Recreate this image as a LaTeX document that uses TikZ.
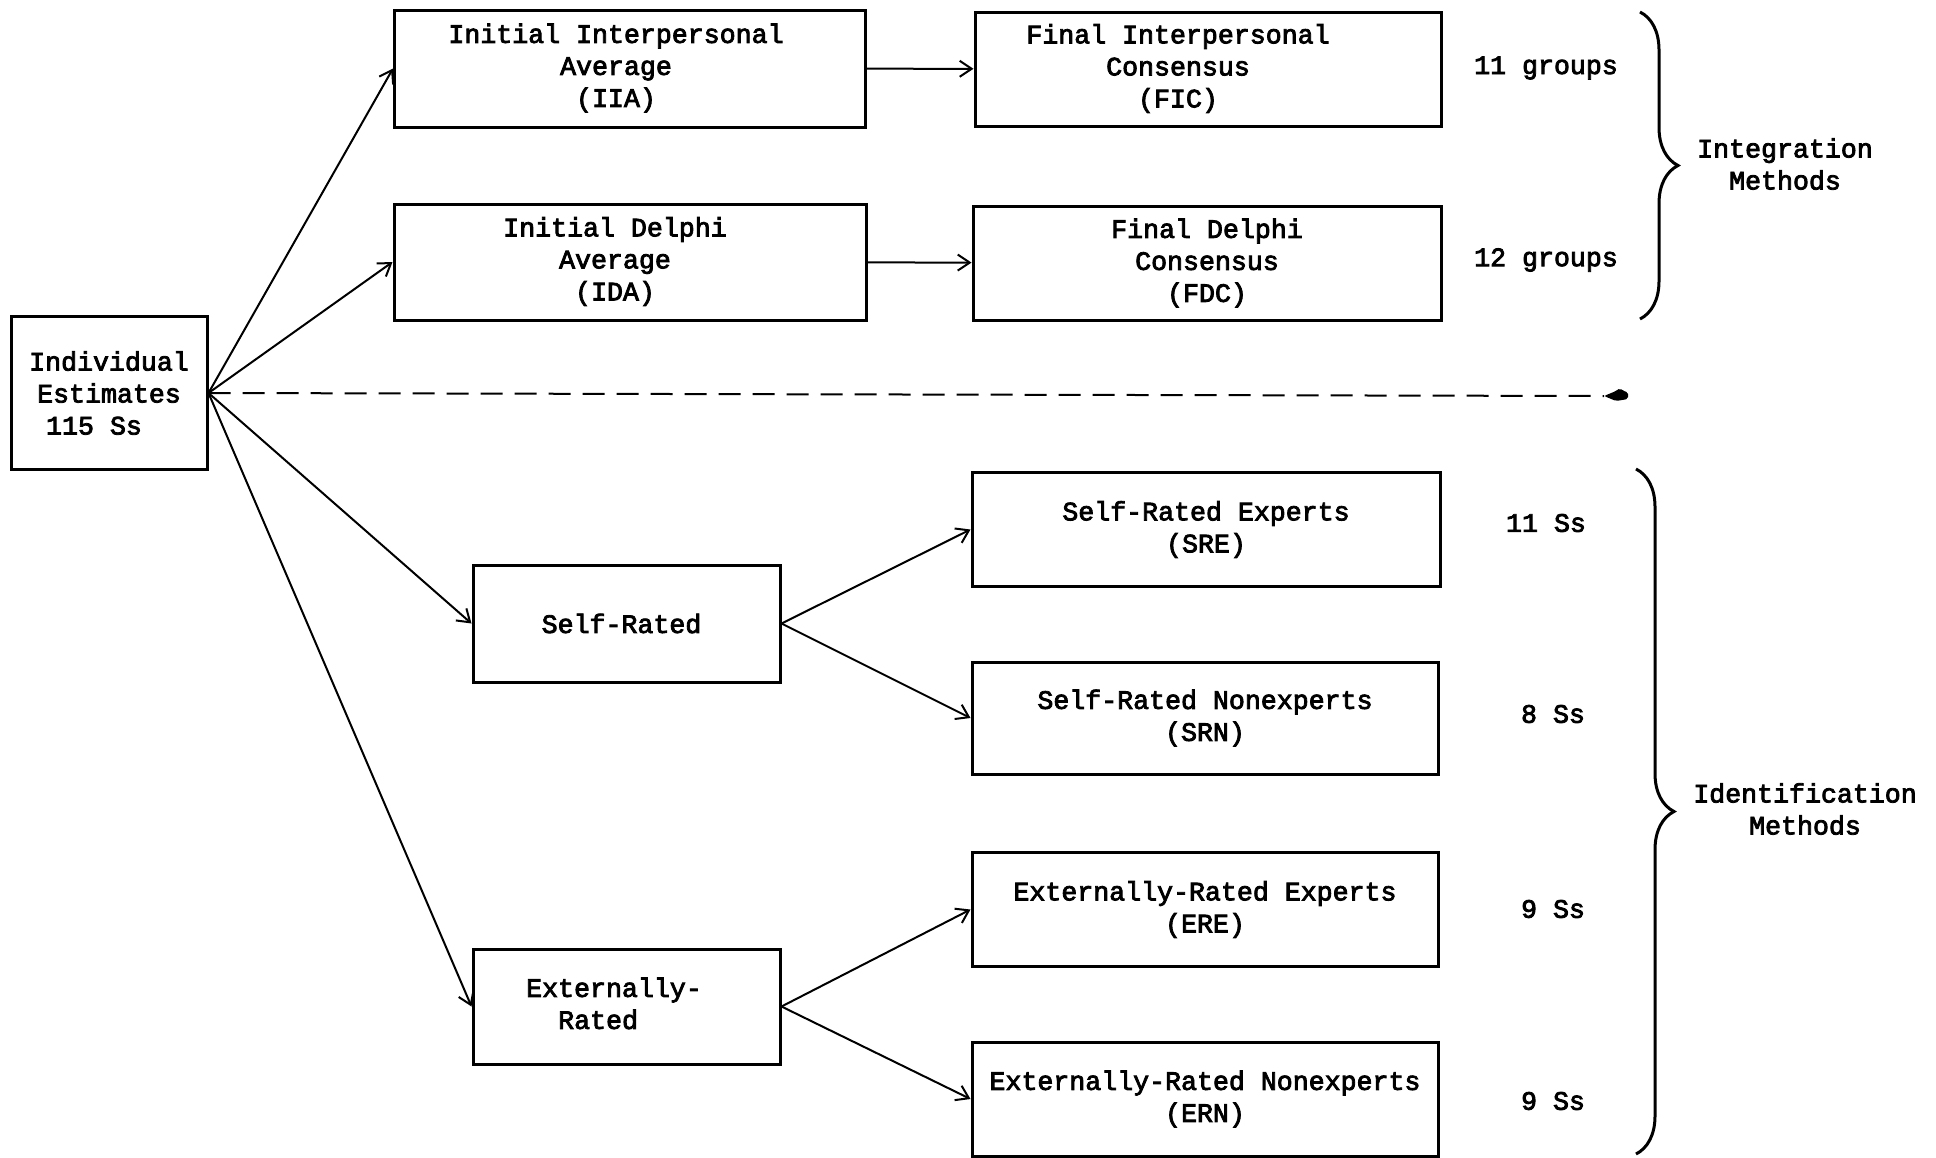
\documentclass[tikz,border=0pt]{standalone}
\usepackage{fontspec}
\setmainfont{Liberation Mono}[FakeBold=3]
\usetikzlibrary{
    arrows.meta,
    decorations.pathreplacing
}
\newcommand{\offtext}[2]{\begin{tabular}{@{}c@{}}#2\end{tabular}\hspace*{#1}}

\begin{document}
\begin{tikzpicture}[x=0.5pt,y=-0.5pt,->,>={Straight Barb[length=6pt,width=8pt]},line width=1pt,
    font=\fontsize{13.3}{16}\selectfont]
    \tikzstyle{box}=[draw, line width=1.5pt, align=center, inner sep=0pt, minimum width=233pt, minimum height=57pt]
    \tikzstyle{midbox}=[box, minimum width=153.5pt, minimum height=58.5pt]
    \tikzstyle{group}=[-, line width=1.5pt, decorate, decoration={brace, amplitude=19pt}]

    \useasboundingbox (0,0) rectangle (1936,1157);

    % source
    \node[box, minimum width=98pt, minimum height=76.5pt] (IE) at (109,393) {Individual\\Estimates\\115 Ss\hspace*{15pt}};

    % integration methods
    \node[box, minimum width=235.5pt, minimum height=58.5pt] (IIA) at (630,68.5)
        {\offtext{14pt}{Initial Interpersonal\\Average\\(IIA)}};
    \node[box, minimum width=236pt, minimum height=58pt] (IDA) at (630,262)
        {\offtext{15pt}{Initial Delphi\\Average\\(IDA)}};
    \node[box] (FIC) at (1208,69)
        {\offtext{30pt}{Final Interpersonal\\Consensus\\(FIC)}};
    \node[box, minimum width=234pt] (FDC) at (1207,263) {Final Delphi\\Consensus\\(FDC)};

    % identification methods
    \node[midbox] (SR) at (626.5,623.5) {Self-Rated\hspace*{5pt}};
    \node[midbox, minimum height=57.5pt] (ER) at (626.5,1006.5)
        {\begin{tabular}{@{}l@{}}Externally-\\\hspace*{16pt}Rated\end{tabular}\hspace*{12.5pt}};
    \node[box, minimum width=234pt] (SRE) at (1206,529.5) {Self-Rated Experts\\(SRE)};
    \node[box, minimum height=56pt] (SRN) at (1205,718) {Self-Rated Nonexperts\\(SRN)};
    \node[box] (ERE) at (1205,909.5) {Externally-Rated Experts\\(ERE)};
    \node[box] (ERN) at (1205,1099) {Externally-Rated Nonexperts\\(ERN)};

    % counts
    \node (nFIC) at (1546,68) {11 groups};
    \node (nFDC) at (1546,260) {12 groups};
    \node (nSRE) at (1546,523) {11 Ss};
    \node (nSRN) at (1553,714) {8 Ss};
    \node (nERE) at (1553,909) {9 Ss};
    \node (nERN) at (1553,1101) {9 Ss};

    \path (IE.east) edge (IIA.west)
                    edge (IDA.west)
                    edge (SR.west)
                    edge (ER.west);
    \path (IIA) edge (FIC)
          (IDA) edge (FDC);
    \path (SR.east) edge (SRE.west)
                    edge (SRN.west)
          (ER.east) edge (ERE.west)
                    edge (ERN.west);

    % divider
    \coordinate (cut) at (1604,396);
    \draw[-, dash pattern=on 11pt off 6pt] (IE.east) -- (cut);
    \fill[rounded corners=1pt] (cut) -- ++(12,-5) -- ++(4,-3) -- ++(3,3) -- ++(5,1) -- ++(0,7) -- ++(-12,2) -- cycle;

    % braces
    \draw[group] (1640,12) -- (1640,319);
    \draw[group] (1636,469) -- (1636,1154);
    \node[align=center] (int) at (1785,164) {Integration\\Methods};
    \node[align=center] (ident) at (1805,809) {Identification\\Methods};
\end{tikzpicture}
\end{document}
